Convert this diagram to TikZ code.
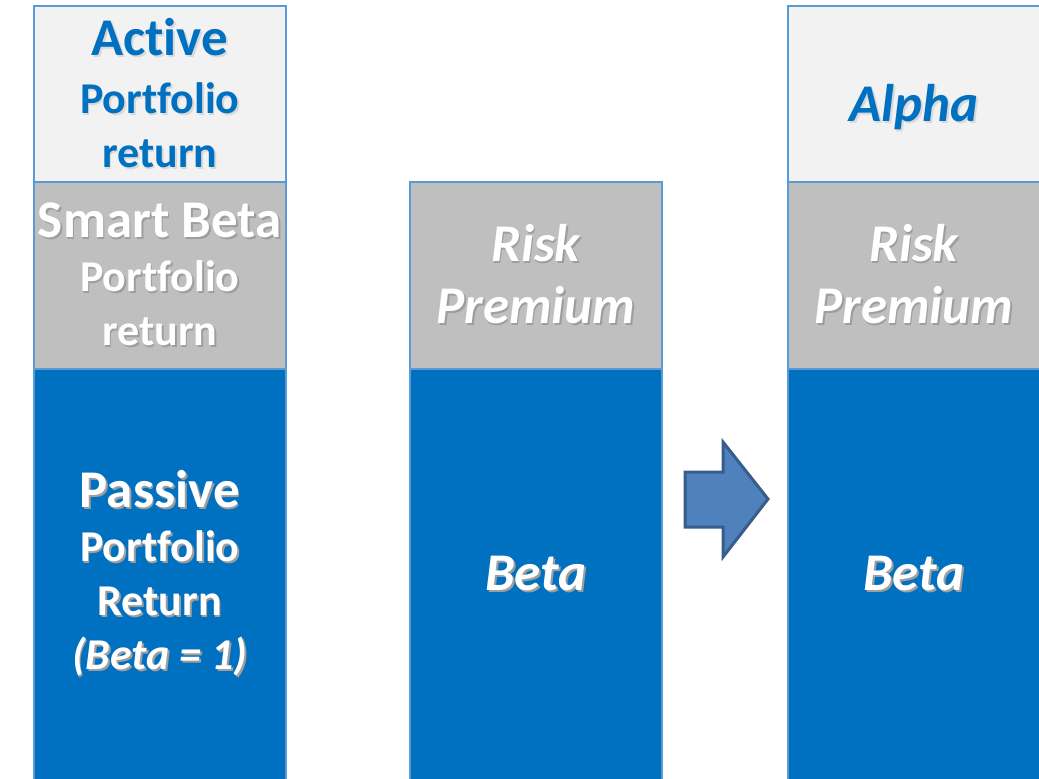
\documentclass[tikz,border=0pt]{standalone}
\usepackage{fontspec}
\setmainfont{Carlito}[Ligatures={NoCommon,NoContextual}]
\usepackage{tikz}
\usetikzlibrary{positioning}

\definecolor{paleg}{HTML}{F2F2F2}
\definecolor{midg}{HTML}{BFBFBF}
\definecolor{deepblue}{HTML}{0070C0}
\definecolor{edgeblue}{HTML}{5B9BD5}
\definecolor{arrowfill}{HTML}{4F81BD}
\definecolor{arrowedge}{HTML}{385D8A}

% text with a small drop shadow
\newcommand\shd[2][black!38]{\rlap{\kern1.8pt\raisebox{-1.8pt}{\color{#1}#2}}#2}
\newcommand\headline[1]{{\fontsize{53}{54}\selectfont #1}}

\tikzset{
  seg/.style={draw=edgeblue, line width=1.5pt, minimum width=252pt,
    anchor=north west, inner sep=0pt, align=center,
    font=\bfseries\fontsize{44}{54}\selectfont},
  lbl/.style={text=white},
  slant/.style={font=\bfseries\itshape\fontsize{53}{62}\selectfont},
}

\begin{document}
\begin{tikzpicture}[x=1pt,y=-1pt]
  \useasboundingbox (0,0) rectangle (1039,779);
  \clip (0,0) rectangle (1039,779);

  % left column
  \node[seg, fill=paleg, minimum height=176pt, text=deepblue] (active) at (33,5)
    {\raisebox{4pt}{\headline{\shd[black!15]{Active}}}\\
     \shd[black!15]{Portfolio}\\ \shd[black!15]{return}};
  \node[seg, fill=midg, minimum height=187pt, lbl] (smart) at (33,181)
    {\headline{\shd{Smart Beta}}\\ \shd{Portfolio}\\ \shd{return}};
  \node[seg, fill=deepblue, minimum height=411pt, lbl] (passive) at (33,368)
    {\headline{\shd{Passive}}\\ \shd{Portfolio}\\ \shd{Return}\\
     \itshape\shd{(Beta = 1)}};

  % middle column
  \node[seg, fill=midg, minimum height=187pt, lbl, slant] (prem) at (409,181)
    {\shd{Risk}\\ \shd{Premium}};
  \node[seg, fill=deepblue, minimum height=411pt, lbl, slant] (beta) at (409,368)
    {\shd{Beta}};

  % right column
  \node[seg, fill=paleg, minimum height=176pt, text=deepblue, slant] (alpha) at (787,5)
    {\raisebox{-28pt}[0pt][0pt]{\shd[black!15]{Alpha}}};
  \node[seg, fill=midg, minimum height=187pt, lbl, slant] (prem2) at (787,181)
    {\shd{Risk}\\ \shd{Premium}};
  \node[seg, fill=deepblue, minimum height=411pt, lbl, slant] (beta2) at (787,368)
    {\shd{Beta}};

  % block arrow between the two right columns
  \draw[arrowedge, fill=arrowfill, line width=3pt, line join=miter]
    (685,472) -- (723,472) -- (723,442) -- (768,499) -- (723,557)
    -- (723,527) -- (685,527) -- cycle;
\end{tikzpicture}
\end{document}
